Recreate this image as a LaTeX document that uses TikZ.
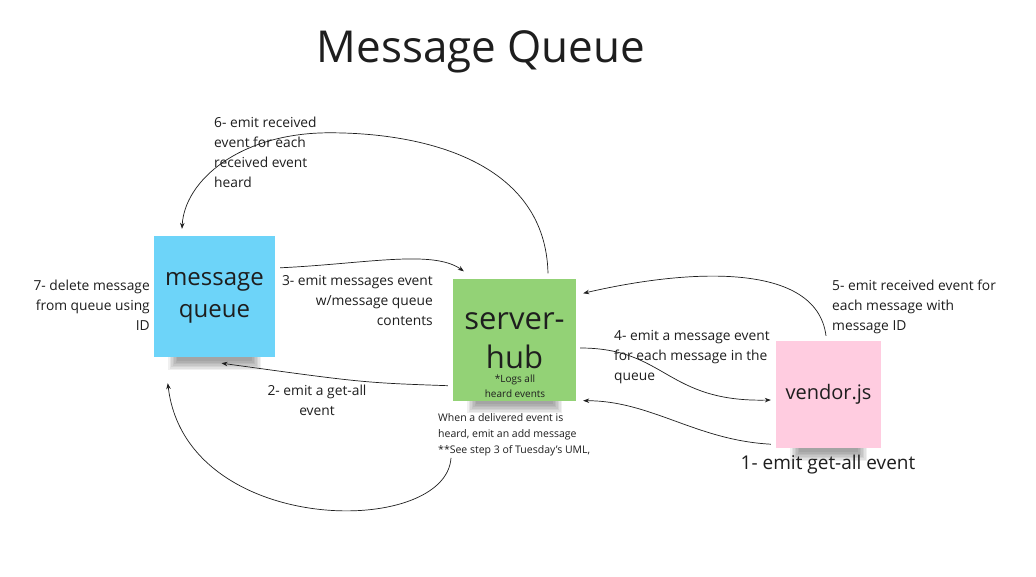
\documentclass[tikz,border=0pt]{standalone}
\usepackage{fontspec}
\setmainfont{Open Sans}
\usetikzlibrary{arrows.meta,calc}
\definecolor{mqblue}{HTML}{6DD4F9}
\definecolor{hubgreen}{HTML}{93D276}
\definecolor{vpink}{HTML}{FFCCE0}
\definecolor{ink}{HTML}{1E1E1E}
\tikzset{
  note/.style={minimum width=#1, minimum height=#1, inner sep=0pt, text=ink, align=center},
  conn/.style={draw=ink, line width=0.7pt, -{Stealth[length=6pt,width=4.5pt]}},
  lbl/.style={text=ink, font=\fontsize{13.8}{20}\selectfont, inner sep=0pt},
  small/.style={text=ink, font=\fontsize{10.5}{16}\selectfont, inner sep=0pt},
}
\newcommand{\shadowbox}[4]{%
  \foreach \k in {0,...,6}{%
    \fill[black, opacity=0.06] ($(#1)+(#3+\k*1.5,-2)$) rectangle ($(#2)+(-#3-\k*1.5,#4-\k*1.5)$);
  }}
\begin{document}
\begin{tikzpicture}[x=1pt,y=-1pt]
\useasboundingbox (0,0) rectangle (1036,577);
\fill[white] (0,0) rectangle (1036,577);

% title
\node[text=ink, font=\fontsize{44}{50}\selectfont, inner sep=0pt] (title) at (481,52) {Message Queue};

% shadows
\shadowbox{154,357}{275,357}{14}{13}
\shadowbox{453,400}{576,400}{14}{13}
\shadowbox{776,448}{881,448}{14}{13}

% sticky notes
\node[note=121pt, fill=mqblue] (mq) at (214.5,296.5) {};
\node[text=ink, font=\fontsize{24}{32}\selectfont, align=center, inner sep=0pt] (mqt) at (214.5,298) {message\\queue};
\node[note=121pt, minimum width=123pt, fill=hubgreen] (hub) at (514.5,340) {};
\node[text=ink, font=\fontsize{31}{39}\selectfont, align=center, inner sep=0pt] (hubt) at (514.5,341) {server-\\hub};
\node[small, align=center, font=\fontsize{10}{15}\selectfont] (logs) at (515,386.5) {*Logs all\\heard events};
\node[note=107pt, minimum width=105pt, fill=vpink] (vendor) at (828.5,394.5) {};
\node[text=ink, font=\fontsize{20}{26}\selectfont, inner sep=0pt] (vendt) at (828.5,394) {vendor.js};

% labels
\node[lbl, align=left, anchor=north west] (l6) at (214,117) {6- emit received\\event for each\\received event\\heard};
\node[lbl, align=right, anchor=north east] (l7) at (150,280) {7- delete message\\from queue using\\ID};
\node[lbl, align=right, anchor=north east] (l3) at (433,275) {3- emit messages event\\w/message queue\\contents};
\node[lbl, align=center, anchor=north] (l2) at (317,385) {2- emit a get-all\\event};
\node[small, align=left, anchor=north west] (lw) at (438,413) {When a delivered event is\\heard, emit an add message\\**See step 3 of Tuesday's UML,};
\node[lbl, align=left, anchor=north west] (l4) at (614,330) {4- emit a message event\\for each message in the\\queue};
\node[lbl, align=left, anchor=north west] (l5) at (832,280) {5- emit received event for\\each message with\\message ID};
\node[text=ink, font=\fontsize{19}{24}\selectfont, inner sep=0pt] (l1) at (828,465) {1- emit get-all event};

% connectors
\draw[conn] ($(hub.north)+(33.5,-6)$) .. controls ($(hub.north)+(31,-115)$) and ($(mq.north)+(215,-103)$) .. ($(mq.north)+(115,-103)$)
  .. controls ($(mq.north)+(25,-103)$) and ($(mq.north)+(-30,-55)$) .. ($(mq.north)+(-32.5,-7)$);
\draw[conn] ($(mq.north east)+(5,32)$) .. controls ($(mq.north east)+(90,28)$) and ($(hub.north west)+(-20,-30)$) .. ($(hub.north west)+(11,-8)$);
\draw[conn] ($(hub.south west)+(-5,-15)$) .. controls ($(hub.south west)+(-90,-18)$) .. ($(mq.south)+(7,6)$);
\draw[conn] ($(hub.east)+(4,8)$) .. controls ($(hub.east)+(90,8)$) and ($(vendor.west)+(-110,8)$) .. ($(vendor.west)+(-5,5.5)$);
\draw[conn] ($(vendor.south west)+(-5,-4)$) .. controls ($(vendor.south west)+(-80,-8)$) and ($(hub.south east)+(75,0)$) .. ($(hub.south east)+(7,0)$);
\draw[conn] ($(vendor.north)+(-2.5,-5)$) .. controls ($(vendor.north)+(-12,-80)$) and ($(hub.north east)+(110,-10)$) .. ($(hub.north east)+(7,14)$);
\draw[conn] ($(lw.south west)+(13,2)$) .. controls ($(lw.south west)+(8,82)$) and ($(mq.south west)+(32,180)$) .. ($(mq.south west)+(14,26)$);
\end{tikzpicture}
\end{document}
